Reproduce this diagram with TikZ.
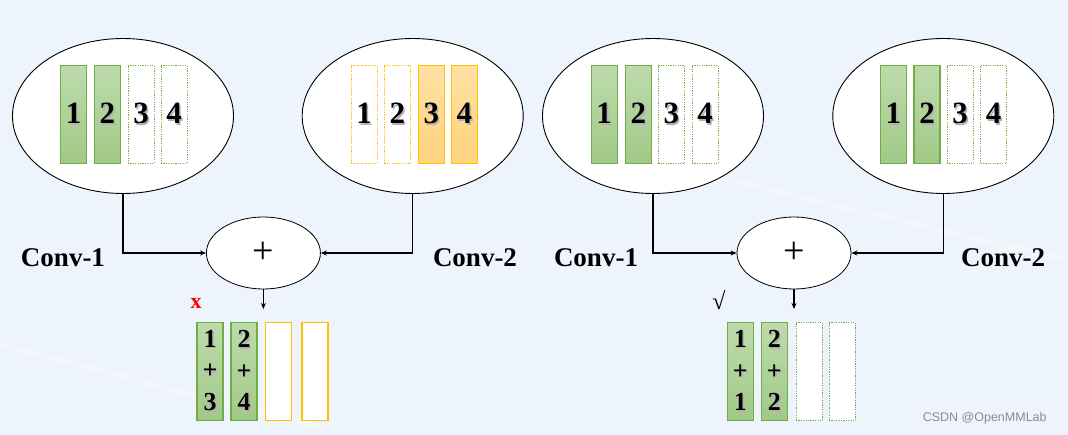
\documentclass[tikz,border=0pt]{standalone}
\usepackage{fontspec}
\setmainfont{Liberation Serif}
\newfontfamily\wmfont{Liberation Sans}
\usetikzlibrary{arrows.meta,shapes.geometric}
\definecolor{bgc}{HTML}{EEF4FC}
\definecolor{grn}{HTML}{70AD47}
\definecolor{grnT}{HTML}{BDDBAB}
\definecolor{grnB}{HTML}{A1C988}
\definecolor{org}{HTML}{FFC000}
\definecolor{orgT}{HTML}{FFE1A5}
\definecolor{orgB}{HTML}{FFD27D}
\newcommand\shd[1]{\makebox[0pt][l]{\hspace{1.6pt}\raisebox{-1.6pt}{\textcolor{black!30}{#1}}}#1}
\tikzset{
  big/.style={ellipse, draw=black, fill=white, line width=0.9pt, minimum width=221, minimum height=155, inner sep=0},
  plusnode/.style={ellipse, draw=black, fill=white, line width=0.8pt, minimum width=114, minimum height=72, inner sep=0, font=\fontsize{38}{38}\selectfont},
  bar/.style={rectangle, minimum width=26, minimum height=98, inner sep=0, line width=1.1pt, font=\fontsize{31}{31}\selectfont\bfseries},
  gbar/.style={bar, draw=grn, top color=grnT, bottom color=grnB},
  obar/.style={bar, draw=org, top color=orgT, bottom color=orgB},
  gdot/.style={bar, draw=grn, fill=white, line width=0.8pt, dash pattern=on 1.2pt off 1.2pt},
  odot/.style={bar, draw=org, fill=white, line width=0.8pt, dash pattern=on 1.2pt off 1.2pt},
  osol/.style={bar, draw=org, fill=white},
  sumbar/.style={bar, align=center, font=\fontsize{26}{31.7}\selectfont\bfseries},
  conv/.style={font=\fontsize{27}{27}\selectfont\bfseries, inner sep=0},
  arr/.style={line width=1.5pt, -{Stealth[length=6pt,width=5pt]}},
}
\begin{document}
\begin{tikzpicture}[x=1pt,y=-1pt]
\fill[bgc] (0,0) rectangle (1068,435);
\useasboundingbox (0,0) rectangle (1068,435);
\draw[white, line width=6pt, opacity=0.3] (0,345) -- (330,430);
\draw[white, line width=6pt, opacity=0.3] (600,150) -- (1068,260);

% top ellipses
\node[big] (e1) at (123,116) {};
\node[big] (e2) at (412.7,116) {};
\node[big] (e3) at (653,116) {};
\node[big] (e4) at (943.3,116) {};

% ellipse 1
\node[gbar] (a1) at (73.5,114.2) {\shd{1}};
\node[gbar] (a2) at (107.3,114.2) {\shd{2}};
\node[gdot] (a3) at (141,114.2) {\shd{3}};
\node[gdot] (a4) at (174,114.2) {\shd{4}};
% ellipse 2
\node[odot] (b1) at (364,114.2) {\shd{1}};
\node[odot] (b2) at (397.3,114.2) {\shd{2}};
\node[obar] (b3) at (431.3,114.2) {\shd{3}};
\node[obar] (b4) at (464.3,114.2) {\shd{4}};
% ellipse 3
\node[gbar] (c1) at (604.2,114.2) {\shd{1}};
\node[gbar] (c2) at (638.3,114.2) {\shd{2}};
\node[gdot] (c3) at (671.3,114.2) {\shd{3}};
\node[gdot] (c4) at (705,114.2) {\shd{4}};
% ellipse 4
\node[gbar] (d1) at (893.3,114.2) {\shd{1}};
\node[gbar] (d2) at (927,114.2) {\shd{2}};
\node[gdot] (d3) at (960,114.2) {\shd{3}};
\node[gdot] (d4) at (993.5,114.2) {\shd{4}};

% plus nodes
\node[plusnode] (p1) at (263.4,253) {+};
\node[plusnode] (p2) at (794,253) {+};

% labels
\node[conv] (l1) at (63,258) {Conv-1};
\node[conv] (l2) at (475,258) {Conv-2};
\node[conv] (l3) at (596,258) {Conv-1};
\node[conv] (l4) at (1003,258) {Conv-2};

% connectors
\draw[arr] (e1.south) |- (p1.west);
\draw[arr] (e2.south) |- (p1.east);
\draw[arr] (e3.south) |- (p2.west);
\draw[arr] (e4.south) |- (p2.east);
\coordinate (o1) at (263.4,309);
\coordinate (o2) at (794,309);
\draw[arr] (p1.south) -- (o1);
\draw[arr] (p2.south) -- (o2);

% bottom left
\node[sumbar, draw=grn, top color=grnT, bottom color=grnB] (s1) at (210,371.3) {\shd{1}\\\shd{+}\\\shd{3}};
\node[sumbar, draw=grn, top color=grnT, bottom color=grnB] (s2) at (244,371.3) {\shd{2}\\\shd{+}\\\shd{4}};
\node[osol] (s3) at (278.5,371.3) {};
\node[osol] (s4) at (315,371.3) {};
\node[text=red, font=\fontsize{22}{22}\selectfont\bfseries, inner sep=0] (xm) at (196,303) {x};

% bottom right
\node[sumbar, draw=grn, top color=grnT, bottom color=grnB] (t1) at (740.3,371.3) {\shd{1}\\\shd{+}\\\shd{1}};
\node[sumbar, draw=grn, top color=grnT, bottom color=grnB] (t2) at (774.3,371.3) {\shd{2}\\\shd{+}\\\shd{2}};
\node[gdot] (t3) at (809,371.3) {};
\node[gdot] (t4) at (842,371.3) {};
\node[font=\fontsize{24}{24}\selectfont, inner sep=0] (ok) at (719,300) {√};

% watermark
\node[font=\wmfont\fontsize{12.5}{12.5}\selectfont, text=black!45, inner sep=0] (wm) at (984.7,418.3) {CSDN @OpenMMLab};
\end{tikzpicture}
\end{document}
